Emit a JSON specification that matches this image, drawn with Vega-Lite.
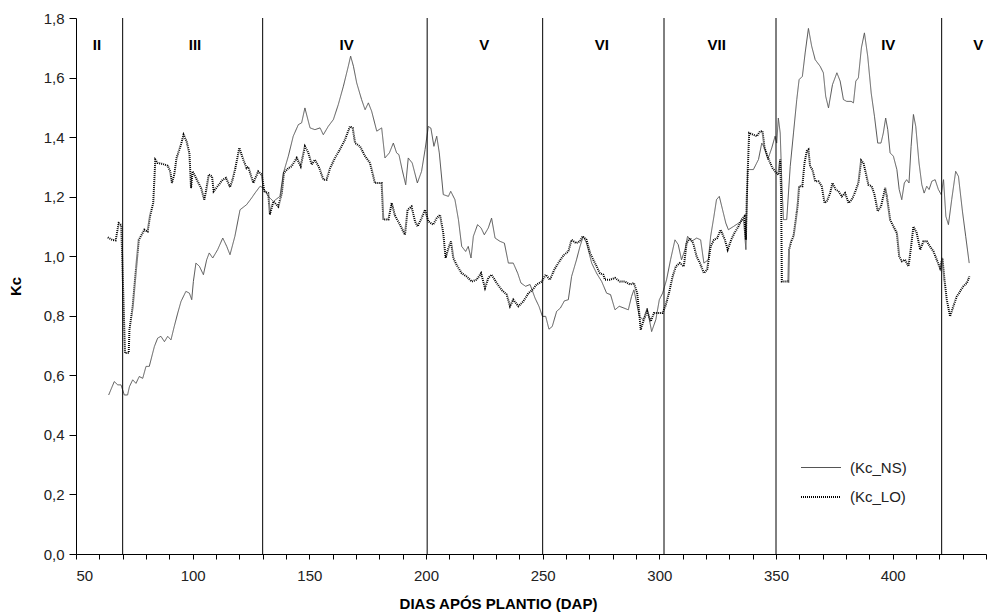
{
  "$schema": "https://vega.github.io/schema/vega-lite/v6.json",
  "width": 910,
  "height": 536,
  "autosize": {"type": "none"},
  "padding": {"left": 76, "top": 18, "right": 6, "bottom": 60},
  "background": "white",
  "config": {
    "view": {"stroke": null},
    "font": "Liberation Sans"
  },
  "datasets": {
    "series": [
      {"d":64,"s":"Kc_NS","k":0.534},{"d":66.4,"s":"Kc_NS","k":0.579},{"d":67.9,"s":"Kc_NS","k":0.568},{"d":69.3,"s":"Kc_NS","k":0.568},{"d":70.7,"s":"Kc_NS","k":0.534},{"d":72.1,"s":"Kc_NS","k":0.534},{"d":72.9,"s":"Kc_NS","k":0.562},{"d":74.3,"s":"Kc_NS","k":0.585},{"d":75.7,"s":"Kc_NS","k":0.573},{"d":77.1,"s":"Kc_NS","k":0.596},{"d":78.6,"s":"Kc_NS","k":0.59},{"d":80,"s":"Kc_NS","k":0.63},{"d":81.4,"s":"Kc_NS","k":0.63},{"d":83.6,"s":"Kc_NS","k":0.697},{"d":85,"s":"Kc_NS","k":0.725},{"d":86.4,"s":"Kc_NS","k":0.731},{"d":87.9,"s":"Kc_NS","k":0.713},{"d":89.3,"s":"Kc_NS","k":0.731},{"d":90.7,"s":"Kc_NS","k":0.719},{"d":92.1,"s":"Kc_NS","k":0.764},{"d":93.6,"s":"Kc_NS","k":0.809},{"d":95,"s":"Kc_NS","k":0.848},{"d":97.1,"s":"Kc_NS","k":0.882},{"d":98.6,"s":"Kc_NS","k":0.876},{"d":99.6,"s":"Kc_NS","k":0.854},{"d":100.3,"s":"Kc_NS","k":0.915},{"d":101.4,"s":"Kc_NS","k":0.977},{"d":102.9,"s":"Kc_NS","k":0.966},{"d":104.6,"s":"Kc_NS","k":0.938},{"d":106,"s":"Kc_NS","k":0.988},{"d":107.1,"s":"Kc_NS","k":1.011},{"d":108.6,"s":"Kc_NS","k":0.994},{"d":110.7,"s":"Kc_NS","k":1.022},{"d":112.9,"s":"Kc_NS","k":1.061},{"d":114.6,"s":"Kc_NS","k":1.033},{"d":116,"s":"Kc_NS","k":1.005},{"d":118.1,"s":"Kc_NS","k":1.067},{"d":120.3,"s":"Kc_NS","k":1.156},{"d":123.1,"s":"Kc_NS","k":1.173},{"d":125.3,"s":"Kc_NS","k":1.196},{"d":126.7,"s":"Kc_NS","k":1.212},{"d":128.9,"s":"Kc_NS","k":1.235},{"d":130.3,"s":"Kc_NS","k":1.229},{"d":132.4,"s":"Kc_NS","k":1.201},{"d":134.6,"s":"Kc_NS","k":1.184},{"d":137.4,"s":"Kc_NS","k":1.201},{"d":138.9,"s":"Kc_NS","k":1.28},{"d":141,"s":"Kc_NS","k":1.336},{"d":143.1,"s":"Kc_NS","k":1.403},{"d":145.3,"s":"Kc_NS","k":1.442},{"d":146.7,"s":"Kc_NS","k":1.448},{"d":148.1,"s":"Kc_NS","k":1.498},{"d":150.3,"s":"Kc_NS","k":1.431},{"d":152.4,"s":"Kc_NS","k":1.425},{"d":154.6,"s":"Kc_NS","k":1.431},{"d":156,"s":"Kc_NS","k":1.408},{"d":158.1,"s":"Kc_NS","k":1.436},{"d":160.3,"s":"Kc_NS","k":1.459},{"d":162.4,"s":"Kc_NS","k":1.509},{"d":164.6,"s":"Kc_NS","k":1.571},{"d":166.7,"s":"Kc_NS","k":1.638},{"d":167.7,"s":"Kc_NS","k":1.672},{"d":168.9,"s":"Kc_NS","k":1.638},{"d":170.3,"s":"Kc_NS","k":1.582},{"d":172.4,"s":"Kc_NS","k":1.526},{"d":173.9,"s":"Kc_NS","k":1.492},{"d":175.3,"s":"Kc_NS","k":1.515},{"d":176.7,"s":"Kc_NS","k":1.487},{"d":178.9,"s":"Kc_NS","k":1.42},{"d":181,"s":"Kc_NS","k":1.431},{"d":182.4,"s":"Kc_NS","k":1.33},{"d":184.3,"s":"Kc_NS","k":1.347},{"d":186,"s":"Kc_NS","k":1.38},{"d":187.4,"s":"Kc_NS","k":1.347},{"d":188.4,"s":"Kc_NS","k":1.341},{"d":189.8,"s":"Kc_NS","k":1.29},{"d":191.3,"s":"Kc_NS","k":1.24},{"d":192.4,"s":"Kc_NS","k":1.33},{"d":194.1,"s":"Kc_NS","k":1.313},{"d":196.3,"s":"Kc_NS","k":1.246},{"d":198.1,"s":"Kc_NS","k":1.285},{"d":199.6,"s":"Kc_NS","k":1.358},{"d":201,"s":"Kc_NS","k":1.436},{"d":202.1,"s":"Kc_NS","k":1.43},{"d":203.4,"s":"Kc_NS","k":1.369},{"d":204.6,"s":"Kc_NS","k":1.403},{"d":205.7,"s":"Kc_NS","k":1.347},{"d":207.4,"s":"Kc_NS","k":1.207},{"d":209.6,"s":"Kc_NS","k":1.201},{"d":210.6,"s":"Kc_NS","k":1.218},{"d":212.4,"s":"Kc_NS","k":1.19},{"d":213.9,"s":"Kc_NS","k":1.123},{"d":215.3,"s":"Kc_NS","k":1.033},{"d":217,"s":"Kc_NS","k":1.016},{"d":218.1,"s":"Kc_NS","k":1.033},{"d":219.3,"s":"Kc_NS","k":0.994},{"d":220.3,"s":"Kc_NS","k":1.067},{"d":222.1,"s":"Kc_NS","k":1.106},{"d":223.6,"s":"Kc_NS","k":1.095},{"d":225,"s":"Kc_NS","k":1.072},{"d":226.7,"s":"Kc_NS","k":1.095},{"d":228.1,"s":"Kc_NS","k":1.128},{"d":229.6,"s":"Kc_NS","k":1.061},{"d":231.7,"s":"Kc_NS","k":1.05},{"d":233.6,"s":"Kc_NS","k":1.044},{"d":235.3,"s":"Kc_NS","k":0.977},{"d":237.4,"s":"Kc_NS","k":0.977},{"d":239.3,"s":"Kc_NS","k":0.943},{"d":240.7,"s":"Kc_NS","k":0.91},{"d":242.7,"s":"Kc_NS","k":0.899},{"d":244.6,"s":"Kc_NS","k":0.905},{"d":246.7,"s":"Kc_NS","k":0.86},{"d":248.4,"s":"Kc_NS","k":0.832},{"d":249.9,"s":"Kc_NS","k":0.798},{"d":251.3,"s":"Kc_NS","k":0.798},{"d":252.7,"s":"Kc_NS","k":0.755},{"d":254.1,"s":"Kc_NS","k":0.764},{"d":256,"s":"Kc_NS","k":0.815},{"d":257.6,"s":"Kc_NS","k":0.826},{"d":259.3,"s":"Kc_NS","k":0.85},{"d":261,"s":"Kc_NS","k":0.854},{"d":262.4,"s":"Kc_NS","k":0.932},{"d":264.5,"s":"Kc_NS","k":0.988},{"d":266,"s":"Kc_NS","k":1.033},{"d":267.4,"s":"Kc_NS","k":1.067},{"d":268.8,"s":"Kc_NS","k":1.044},{"d":271,"s":"Kc_NS","k":0.977},{"d":273.1,"s":"Kc_NS","k":0.943},{"d":275.3,"s":"Kc_NS","k":0.915},{"d":277.4,"s":"Kc_NS","k":0.876},{"d":279.1,"s":"Kc_NS","k":0.871},{"d":281,"s":"Kc_NS","k":0.82},{"d":282.8,"s":"Kc_NS","k":0.832},{"d":284.8,"s":"Kc_NS","k":0.826},{"d":286.7,"s":"Kc_NS","k":0.82},{"d":288.1,"s":"Kc_NS","k":0.865},{"d":289.1,"s":"Kc_NS","k":0.887},{"d":290.3,"s":"Kc_NS","k":0.843},{"d":291.4,"s":"Kc_NS","k":0.798},{"d":293.1,"s":"Kc_NS","k":0.787},{"d":294.8,"s":"Kc_NS","k":0.826},{"d":296.7,"s":"Kc_NS","k":0.747},{"d":298.5,"s":"Kc_NS","k":0.787},{"d":300,"s":"Kc_NS","k":0.854},{"d":301.4,"s":"Kc_NS","k":0.876},{"d":303.1,"s":"Kc_NS","k":0.921},{"d":304.8,"s":"Kc_NS","k":0.988},{"d":306.7,"s":"Kc_NS","k":1.055},{"d":308.1,"s":"Kc_NS","k":1.039},{"d":309.5,"s":"Kc_NS","k":0.988},{"d":311,"s":"Kc_NS","k":1.022},{"d":312.1,"s":"Kc_NS","k":1.067},{"d":313.8,"s":"Kc_NS","k":1.05},{"d":316,"s":"Kc_NS","k":1.061},{"d":317.7,"s":"Kc_NS","k":1.055},{"d":319.1,"s":"Kc_NS","k":0.977},{"d":321,"s":"Kc_NS","k":0.988},{"d":322,"s":"Kc_NS","k":1.067},{"d":323.4,"s":"Kc_NS","k":1.134},{"d":324.5,"s":"Kc_NS","k":1.19},{"d":325.7,"s":"Kc_NS","k":1.201},{"d":327.1,"s":"Kc_NS","k":1.156},{"d":328.5,"s":"Kc_NS","k":1.111},{"d":329.6,"s":"Kc_NS","k":1.089},{"d":331.8,"s":"Kc_NS","k":1.1},{"d":333.9,"s":"Kc_NS","k":1.111},{"d":336.1,"s":"Kc_NS","k":1.123},{"d":337.1,"s":"Kc_NS","k":1.022},{"d":337.9,"s":"Kc_NS","k":1.291},{"d":340.3,"s":"Kc_NS","k":1.291},{"d":342.5,"s":"Kc_NS","k":1.325},{"d":343.9,"s":"Kc_NS","k":1.38},{"d":345.1,"s":"Kc_NS","k":1.364},{"d":346.5,"s":"Kc_NS","k":1.325},{"d":348.2,"s":"Kc_NS","k":1.364},{"d":349.6,"s":"Kc_NS","k":1.403},{"d":350.3,"s":"Kc_NS","k":1.38},{"d":351,"s":"Kc_NS","k":1.464},{"d":351.8,"s":"Kc_NS","k":1.414},{"d":352.5,"s":"Kc_NS","k":1.246},{"d":353.2,"s":"Kc_NS","k":1.123},{"d":354.6,"s":"Kc_NS","k":1.123},{"d":356.1,"s":"Kc_NS","k":1.302},{"d":357.5,"s":"Kc_NS","k":1.414},{"d":358.9,"s":"Kc_NS","k":1.526},{"d":359.9,"s":"Kc_NS","k":1.593},{"d":361.3,"s":"Kc_NS","k":1.604},{"d":362.5,"s":"Kc_NS","k":1.683},{"d":363.9,"s":"Kc_NS","k":1.765},{"d":365.3,"s":"Kc_NS","k":1.705},{"d":366.8,"s":"Kc_NS","k":1.66},{"d":368.9,"s":"Kc_NS","k":1.638},{"d":370.3,"s":"Kc_NS","k":1.616},{"d":371.3,"s":"Kc_NS","k":1.537},{"d":372.5,"s":"Kc_NS","k":1.498},{"d":374.2,"s":"Kc_NS","k":1.576},{"d":376.1,"s":"Kc_NS","k":1.616},{"d":377.5,"s":"Kc_NS","k":1.588},{"d":378.9,"s":"Kc_NS","k":1.526},{"d":380.3,"s":"Kc_NS","k":1.52},{"d":382.2,"s":"Kc_NS","k":1.52},{"d":383.2,"s":"Kc_NS","k":1.515},{"d":384.2,"s":"Kc_NS","k":1.588},{"d":385.3,"s":"Kc_NS","k":1.599},{"d":386.6,"s":"Kc_NS","k":1.7},{"d":387.9,"s":"Kc_NS","k":1.75},{"d":389.3,"s":"Kc_NS","k":1.672},{"d":390.8,"s":"Kc_NS","k":1.548},{"d":392.2,"s":"Kc_NS","k":1.47},{"d":393.6,"s":"Kc_NS","k":1.38},{"d":395,"s":"Kc_NS","k":1.38},{"d":396,"s":"Kc_NS","k":1.414},{"d":397,"s":"Kc_NS","k":1.464},{"d":397.9,"s":"Kc_NS","k":1.425},{"d":398.9,"s":"Kc_NS","k":1.347},{"d":400.3,"s":"Kc_NS","k":1.336},{"d":401.8,"s":"Kc_NS","k":1.291},{"d":402.8,"s":"Kc_NS","k":1.224},{"d":403.9,"s":"Kc_NS","k":1.19},{"d":405,"s":"Kc_NS","k":1.246},{"d":406,"s":"Kc_NS","k":1.257},{"d":407,"s":"Kc_NS","k":1.246},{"d":407.9,"s":"Kc_NS","k":1.369},{"d":408.9,"s":"Kc_NS","k":1.476},{"d":409.9,"s":"Kc_NS","k":1.436},{"d":411.3,"s":"Kc_NS","k":1.313},{"d":412.5,"s":"Kc_NS","k":1.24},{"d":413.5,"s":"Kc_NS","k":1.212},{"d":414.6,"s":"Kc_NS","k":1.235},{"d":415.6,"s":"Kc_NS","k":1.224},{"d":416.8,"s":"Kc_NS","k":1.252},{"d":418.2,"s":"Kc_NS","k":1.257},{"d":419.6,"s":"Kc_NS","k":1.224},{"d":420.8,"s":"Kc_NS","k":1.207},{"d":421.8,"s":"Kc_NS","k":1.257},{"d":422.8,"s":"Kc_NS","k":1.134},{"d":423.9,"s":"Kc_NS","k":1.106},{"d":425.3,"s":"Kc_NS","k":1.19},{"d":427,"s":"Kc_NS","k":1.285},{"d":428.2,"s":"Kc_NS","k":1.268},{"d":429.9,"s":"Kc_NS","k":1.151},{"d":431.3,"s":"Kc_NS","k":1.067},{"d":432.8,"s":"Kc_NS","k":0.977},
      {"d":63.6,"s":"Kc_LO","k":1.063},{"d":65.5,"s":"Kc_LO","k":1.055},{"d":67,"s":"Kc_LO","k":1.053},{"d":68.3,"s":"Kc_LO","k":1.111},{"d":69.4,"s":"Kc_LO","k":1.105},{"d":70,"s":"Kc_LO","k":0.943},{"d":71,"s":"Kc_LO","k":0.675},{"d":72.6,"s":"Kc_LO","k":0.675},{"d":72.9,"s":"Kc_LO","k":0.753},{"d":74.3,"s":"Kc_LO","k":0.831},{"d":75.7,"s":"Kc_LO","k":0.955},{"d":76.9,"s":"Kc_LO","k":1.055},{"d":77.9,"s":"Kc_LO","k":1.069},{"d":79.3,"s":"Kc_LO","k":1.089},{"d":80.7,"s":"Kc_LO","k":1.083},{"d":81.7,"s":"Kc_LO","k":1.134},{"d":83.1,"s":"Kc_LO","k":1.179},{"d":84,"s":"Kc_LO","k":1.324},{"d":85,"s":"Kc_LO","k":1.313},{"d":87.1,"s":"Kc_LO","k":1.31},{"d":89.3,"s":"Kc_LO","k":1.304},{"d":90.4,"s":"Kc_LO","k":1.285},{"d":91.1,"s":"Kc_LO","k":1.246},{"d":92.1,"s":"Kc_LO","k":1.274},{"d":93.1,"s":"Kc_LO","k":1.33},{"d":95,"s":"Kc_LO","k":1.375},{"d":96.1,"s":"Kc_LO","k":1.408},{"d":97.4,"s":"Kc_LO","k":1.386},{"d":98.6,"s":"Kc_LO","k":1.346},{"d":99.3,"s":"Kc_LO","k":1.229},{"d":100,"s":"Kc_LO","k":1.285},{"d":101.4,"s":"Kc_LO","k":1.263},{"d":103.6,"s":"Kc_LO","k":1.229},{"d":105,"s":"Kc_LO","k":1.19},{"d":105.7,"s":"Kc_LO","k":1.218},{"d":106.9,"s":"Kc_LO","k":1.274},{"d":108.3,"s":"Kc_LO","k":1.268},{"d":109,"s":"Kc_LO","k":1.218},{"d":110.7,"s":"Kc_LO","k":1.235},{"d":112.9,"s":"Kc_LO","k":1.257},{"d":114.3,"s":"Kc_LO","k":1.263},{"d":116,"s":"Kc_LO","k":1.232},{"d":117.1,"s":"Kc_LO","k":1.257},{"d":118.3,"s":"Kc_LO","k":1.296},{"d":120,"s":"Kc_LO","k":1.364},{"d":121.7,"s":"Kc_LO","k":1.324},{"d":123.1,"s":"Kc_LO","k":1.296},{"d":123.8,"s":"Kc_LO","k":1.3},{"d":126,"s":"Kc_LO","k":1.246},{"d":128.1,"s":"Kc_LO","k":1.285},{"d":129.6,"s":"Kc_LO","k":1.274},{"d":130.7,"s":"Kc_LO","k":1.218},{"d":132.4,"s":"Kc_LO","k":1.212},{"d":133.1,"s":"Kc_LO","k":1.14},{"d":134.6,"s":"Kc_LO","k":1.184},{"d":136.7,"s":"Kc_LO","k":1.167},{"d":138.2,"s":"Kc_LO","k":1.212},{"d":139.1,"s":"Kc_LO","k":1.28},{"d":141,"s":"Kc_LO","k":1.296},{"d":142.4,"s":"Kc_LO","k":1.302},{"d":144.6,"s":"Kc_LO","k":1.33},{"d":146.3,"s":"Kc_LO","k":1.302},{"d":148.1,"s":"Kc_LO","k":1.369},{"d":149.6,"s":"Kc_LO","k":1.347},{"d":151,"s":"Kc_LO","k":1.308},{"d":152.4,"s":"Kc_LO","k":1.324},{"d":154.3,"s":"Kc_LO","k":1.296},{"d":156,"s":"Kc_LO","k":1.257},{"d":157.4,"s":"Kc_LO","k":1.257},{"d":158.9,"s":"Kc_LO","k":1.296},{"d":161,"s":"Kc_LO","k":1.33},{"d":163.1,"s":"Kc_LO","k":1.358},{"d":165.3,"s":"Kc_LO","k":1.392},{"d":167.4,"s":"Kc_LO","k":1.436},{"d":168.6,"s":"Kc_LO","k":1.431},{"d":169.6,"s":"Kc_LO","k":1.38},{"d":171.7,"s":"Kc_LO","k":1.369},{"d":173.9,"s":"Kc_LO","k":1.336},{"d":176,"s":"Kc_LO","k":1.313},{"d":178.1,"s":"Kc_LO","k":1.246},{"d":181,"s":"Kc_LO","k":1.246},{"d":181.7,"s":"Kc_LO","k":1.123},{"d":183.9,"s":"Kc_LO","k":1.123},{"d":185.3,"s":"Kc_LO","k":1.179},{"d":186.7,"s":"Kc_LO","k":1.137},{"d":188.8,"s":"Kc_LO","k":1.106},{"d":191,"s":"Kc_LO","k":1.072},{"d":192.1,"s":"Kc_LO","k":1.156},{"d":193.8,"s":"Kc_LO","k":1.167},{"d":195.3,"s":"Kc_LO","k":1.117},{"d":196.4,"s":"Kc_LO","k":1.1},{"d":198.1,"s":"Kc_LO","k":1.128},{"d":199.6,"s":"Kc_LO","k":1.156},{"d":201,"s":"Kc_LO","k":1.117},{"d":203.1,"s":"Kc_LO","k":1.106},{"d":204.6,"s":"Kc_LO","k":1.128},{"d":206,"s":"Kc_LO","k":1.139},{"d":207.4,"s":"Kc_LO","k":1.078},{"d":208.4,"s":"Kc_LO","k":0.994},{"d":209.6,"s":"Kc_LO","k":1.027},{"d":210.7,"s":"Kc_LO","k":1.05},{"d":211.7,"s":"Kc_LO","k":0.994},{"d":213.1,"s":"Kc_LO","k":0.971},{"d":215.3,"s":"Kc_LO","k":0.943},{"d":217.4,"s":"Kc_LO","k":0.932},{"d":219.6,"s":"Kc_LO","k":0.915},{"d":221.7,"s":"Kc_LO","k":0.921},{"d":223.6,"s":"Kc_LO","k":0.943},{"d":225.3,"s":"Kc_LO","k":0.893},{"d":226.7,"s":"Kc_LO","k":0.927},{"d":228.1,"s":"Kc_LO","k":0.938},{"d":230.3,"s":"Kc_LO","k":0.91},{"d":232.4,"s":"Kc_LO","k":0.887},{"d":234.6,"s":"Kc_LO","k":0.871},{"d":236,"s":"Kc_LO","k":0.832},{"d":237.4,"s":"Kc_LO","k":0.854},{"d":239.6,"s":"Kc_LO","k":0.832},{"d":241.7,"s":"Kc_LO","k":0.848},{"d":243.9,"s":"Kc_LO","k":0.876},{"d":245.6,"s":"Kc_LO","k":0.887},{"d":247.4,"s":"Kc_LO","k":0.905},{"d":249.6,"s":"Kc_LO","k":0.915},{"d":251.3,"s":"Kc_LO","k":0.938},{"d":253.1,"s":"Kc_LO","k":0.921},{"d":255,"s":"Kc_LO","k":0.955},{"d":256.7,"s":"Kc_LO","k":0.977},{"d":258.9,"s":"Kc_LO","k":1.003},{"d":261,"s":"Kc_LO","k":1.016},{"d":262.4,"s":"Kc_LO","k":1.055},{"d":264.3,"s":"Kc_LO","k":1.044},{"d":266,"s":"Kc_LO","k":1.05},{"d":267.1,"s":"Kc_LO","k":1.067},{"d":268.8,"s":"Kc_LO","k":1.055},{"d":270.3,"s":"Kc_LO","k":1.011},{"d":271.7,"s":"Kc_LO","k":0.988},{"d":273.1,"s":"Kc_LO","k":0.966},{"d":274.5,"s":"Kc_LO","k":0.943},{"d":276,"s":"Kc_LO","k":0.938},{"d":276.7,"s":"Kc_LO","k":0.921},{"d":278.8,"s":"Kc_LO","k":0.921},{"d":281,"s":"Kc_LO","k":0.927},{"d":283.1,"s":"Kc_LO","k":0.915},{"d":285.3,"s":"Kc_LO","k":0.915},{"d":287.4,"s":"Kc_LO","k":0.905},{"d":289.1,"s":"Kc_LO","k":0.91},{"d":290.5,"s":"Kc_LO","k":0.876},{"d":291.4,"s":"Kc_LO","k":0.809},{"d":292,"s":"Kc_LO","k":0.753},{"d":293.1,"s":"Kc_LO","k":0.781},{"d":294.8,"s":"Kc_LO","k":0.815},{"d":296.3,"s":"Kc_LO","k":0.781},{"d":297.7,"s":"Kc_LO","k":0.809},{"d":299.5,"s":"Kc_LO","k":0.809},{"d":301.4,"s":"Kc_LO","k":0.809},{"d":302.8,"s":"Kc_LO","k":0.837},{"d":304.3,"s":"Kc_LO","k":0.882},{"d":305.7,"s":"Kc_LO","k":0.932},{"d":307.1,"s":"Kc_LO","k":0.966},{"d":308.8,"s":"Kc_LO","k":0.977},{"d":310.5,"s":"Kc_LO","k":0.966},{"d":311.7,"s":"Kc_LO","k":1.044},{"d":313.1,"s":"Kc_LO","k":1.061},{"d":314.5,"s":"Kc_LO","k":1.044},{"d":316,"s":"Kc_LO","k":0.999},{"d":317.4,"s":"Kc_LO","k":0.977},{"d":319.1,"s":"Kc_LO","k":0.943},{"d":320.5,"s":"Kc_LO","k":0.955},{"d":322,"s":"Kc_LO","k":1.033},{"d":323.4,"s":"Kc_LO","k":1.055},{"d":324.8,"s":"Kc_LO","k":1.061},{"d":326.3,"s":"Kc_LO","k":1.089},{"d":328.1,"s":"Kc_LO","k":1.055},{"d":329.3,"s":"Kc_LO","k":1.022},{"d":330.8,"s":"Kc_LO","k":1.055},{"d":332.2,"s":"Kc_LO","k":1.078},{"d":333.9,"s":"Kc_LO","k":1.1},{"d":335.3,"s":"Kc_LO","k":1.123},{"d":336.5,"s":"Kc_LO","k":1.134},{"d":337.1,"s":"Kc_LO","k":1.055},{"d":337.5,"s":"Kc_LO","k":1.201},{"d":337.9,"s":"Kc_LO","k":1.291},{"d":338.5,"s":"Kc_LO","k":1.414},{"d":340.3,"s":"Kc_LO","k":1.408},{"d":341.8,"s":"Kc_LO","k":1.403},{"d":343.2,"s":"Kc_LO","k":1.42},{"d":344.2,"s":"Kc_LO","k":1.42},{"d":345.1,"s":"Kc_LO","k":1.364},{"d":346.1,"s":"Kc_LO","k":1.341},{"d":347.2,"s":"Kc_LO","k":1.319},{"d":348.5,"s":"Kc_LO","k":1.296},{"d":349.6,"s":"Kc_LO","k":1.285},{"d":351,"s":"Kc_LO","k":1.274},{"d":351.8,"s":"Kc_LO","k":1.325},{"d":352.2,"s":"Kc_LO","k":1.212},{"d":352.5,"s":"Kc_LO","k":0.915},{"d":353.9,"s":"Kc_LO","k":0.915},{"d":355.3,"s":"Kc_LO","k":0.915},{"d":355.6,"s":"Kc_LO","k":1.022},{"d":356.5,"s":"Kc_LO","k":1.05},{"d":357.5,"s":"Kc_LO","k":1.067},{"d":358.5,"s":"Kc_LO","k":1.123},{"d":359.3,"s":"Kc_LO","k":1.173},{"d":359.9,"s":"Kc_LO","k":1.235},{"d":361.3,"s":"Kc_LO","k":1.235},{"d":362.2,"s":"Kc_LO","k":1.313},{"d":363.2,"s":"Kc_LO","k":1.353},{"d":363.9,"s":"Kc_LO","k":1.358},{"d":364.6,"s":"Kc_LO","k":1.302},{"d":365.6,"s":"Kc_LO","k":1.291},{"d":366.8,"s":"Kc_LO","k":1.252},{"d":368.2,"s":"Kc_LO","k":1.252},{"d":369.6,"s":"Kc_LO","k":1.235},{"d":370.8,"s":"Kc_LO","k":1.179},{"d":371.8,"s":"Kc_LO","k":1.184},{"d":373.2,"s":"Kc_LO","k":1.212},{"d":374.2,"s":"Kc_LO","k":1.246},{"d":375.6,"s":"Kc_LO","k":1.224},{"d":376.8,"s":"Kc_LO","k":1.218},{"d":378.2,"s":"Kc_LO","k":1.201},{"d":379.6,"s":"Kc_LO","k":1.212},{"d":381.1,"s":"Kc_LO","k":1.179},{"d":382.5,"s":"Kc_LO","k":1.19},{"d":383.9,"s":"Kc_LO","k":1.215},{"d":385.3,"s":"Kc_LO","k":1.246},{"d":386.5,"s":"Kc_LO","k":1.322},{"d":387.5,"s":"Kc_LO","k":1.313},{"d":388.5,"s":"Kc_LO","k":1.279},{"d":389.6,"s":"Kc_LO","k":1.24},{"d":391,"s":"Kc_LO","k":1.235},{"d":392.2,"s":"Kc_LO","k":1.207},{"d":393.6,"s":"Kc_LO","k":1.151},{"d":395,"s":"Kc_LO","k":1.167},{"d":396.8,"s":"Kc_LO","k":1.229},{"d":397.5,"s":"Kc_LO","k":1.201},{"d":398.9,"s":"Kc_LO","k":1.123},{"d":400.3,"s":"Kc_LO","k":1.1},{"d":401.8,"s":"Kc_LO","k":1.078},{"d":402.8,"s":"Kc_LO","k":0.999},{"d":403.9,"s":"Kc_LO","k":0.983},{"d":405.3,"s":"Kc_LO","k":0.988},{"d":406.8,"s":"Kc_LO","k":0.966},{"d":407.9,"s":"Kc_LO","k":1.033},{"d":408.9,"s":"Kc_LO","k":1.1},{"d":410.3,"s":"Kc_LO","k":1.078},{"d":411.8,"s":"Kc_LO","k":1.022},{"d":413.2,"s":"Kc_LO","k":1.05},{"d":414.6,"s":"Kc_LO","k":1.05},{"d":416,"s":"Kc_LO","k":1.033},{"d":417.5,"s":"Kc_LO","k":1.016},{"d":418.9,"s":"Kc_LO","k":0.988},{"d":420.3,"s":"Kc_LO","k":0.96},{"d":421.3,"s":"Kc_LO","k":0.994},{"d":422.2,"s":"Kc_LO","k":0.921},{"d":423.2,"s":"Kc_LO","k":0.854},{"d":424.6,"s":"Kc_LO","k":0.798},{"d":426,"s":"Kc_LO","k":0.832},{"d":427.5,"s":"Kc_LO","k":0.865},{"d":428.9,"s":"Kc_LO","k":0.882},{"d":430.3,"s":"Kc_LO","k":0.899},{"d":431.8,"s":"Kc_LO","k":0.91},{"d":432.9,"s":"Kc_LO","k":0.932}
    ],
    "phases": [
      {"d":70},{"d":130},{"d":200.5},{"d":250},{"d":302},{"d":350},{"d":421}
    ],
    "labels": [
      {"d":59,"t":"II"},{"d":101,"t":"III"},{"d":166,"t":"IV"},{"d":225,"t":"V"},{"d":275.4,"t":"VI"},{"d":324.6,"t":"VII"},{"d":398.1,"t":"IV"},{"d":436.7,"t":"V"}
    ]
  },
  "resolve": {"axis": {"x": "independent"}},
  "layer": [
    {
      "data": {"name": "series"},
      "mark": {"type": "line", "interpolate": "linear"},
      "encoding": {
        "x": {
          "field": "d", "type": "quantitative",
          "scale": {"domain": [50, 440], "nice": false},
          "axis": {
            "orient": "bottom",
            "title": "DIAS APÓS PLANTIO (DAP)",
            "values": [50,100,150,200,250,300,350,400],
            "labelOverlap": false,
            "grid": false,
            "tickSize": 5,
            "tickColor": "#000000",
            "domainColor": "#000000",
            "labelFont": "Liberation Sans",
            "labelFontSize": 15,
            "labelColor": "#222222",
            "labelPadding": 9,
            "titleFont": "Liberation Sans",
            "titleFontSize": 15,
            "titleFontWeight": "bold",
            "titleColor": "#000000",
            "titleX": 422,
            "titlePadding": 13
          }
        },
        "y": {
          "field": "k", "type": "quantitative",
          "scale": {"domain": [0, 1.8], "nice": false},
          "axis": {
            "title": "Kc",
            "values": [0,0.2,0.4,0.6,0.8,1.0,1.2,1.4,1.6,1.8],
            "labelExpr": "replace(format(datum.value, '.1f'), '.', ',')",
            "grid": false,
            "tickSize": 7,
            "tickColor": "#000000",
            "domainColor": "#000000",
            "labelFont": "Liberation Sans",
            "labelFontSize": 15,
            "labelColor": "#222222",
            "labelPadding": 5,
            "titleFont": "Liberation Sans",
            "titleFontSize": 15,
            "titleFontWeight": "bold",
            "titleColor": "#000000",
            "titlePadding": 20
          }
        },
        "detail": {"field": "s"},
        "color": {
          "field": "s", "type": "nominal",
          "scale": {"domain": ["Kc_NS", "Kc_LO"], "range": ["#555555", "#000000"]},
          "legend": {
            "title": null,
            "orient": "none",
            "legendX": 724,
            "legendY": 429,
            "symbolType": "stroke",
            "symbolSize": 1600,
            "labelExpr": "'(' + datum.label + ')'",
            "labelFont": "Liberation Sans",
            "labelFontSize": 15,
            "labelColor": "#222222",
            "labelOffset": 8,
            "rowPadding": -10,
            "padding": 0
          }
        },
        "strokeWidth": {
          "field": "s", "type": "nominal",
          "scale": {"domain": ["Kc_NS", "Kc_LO"], "range": [1, 2]},
          "legend": null
        },
        "strokeDash": {
          "field": "s", "type": "nominal",
          "scale": {"domain": ["Kc_NS", "Kc_LO"], "range": [[1, 0], [1, 1]]},
          "legend": null
        }
      }
    },
    {
      "data": {"name": "phases"},
      "mark": {"type": "rule", "color": "#000000", "strokeWidth": 1},
      "encoding": {
        "x": {
          "field": "d", "type": "quantitative",
          "axis": {
            "orient": "bottom",
            "title": null,
            "values": [60,70,80,90,110,120,130,140,160,170,180,190,210,220,230,240,260,270,280,290,310,320,330,340,360,370,380,390,410,420,430,440],
            "labels": false,
            "domain": false,
            "grid": false,
            "tickSize": 5,
            "tickColor": "#000000"
          }
        }
      }
    },
    {
      "data": {"name": "labels"},
      "mark": {"type": "text", "font": "Liberation Sans", "fontSize": 15, "fontWeight": "bold", "color": "#000000", "baseline": "middle", "align": "center"},
      "encoding": {
        "x": {"field": "d", "type": "quantitative", "axis": null},
        "y": {"datum": 1.71},
        "text": {"field": "t"}
      }
    }
  ]
}
